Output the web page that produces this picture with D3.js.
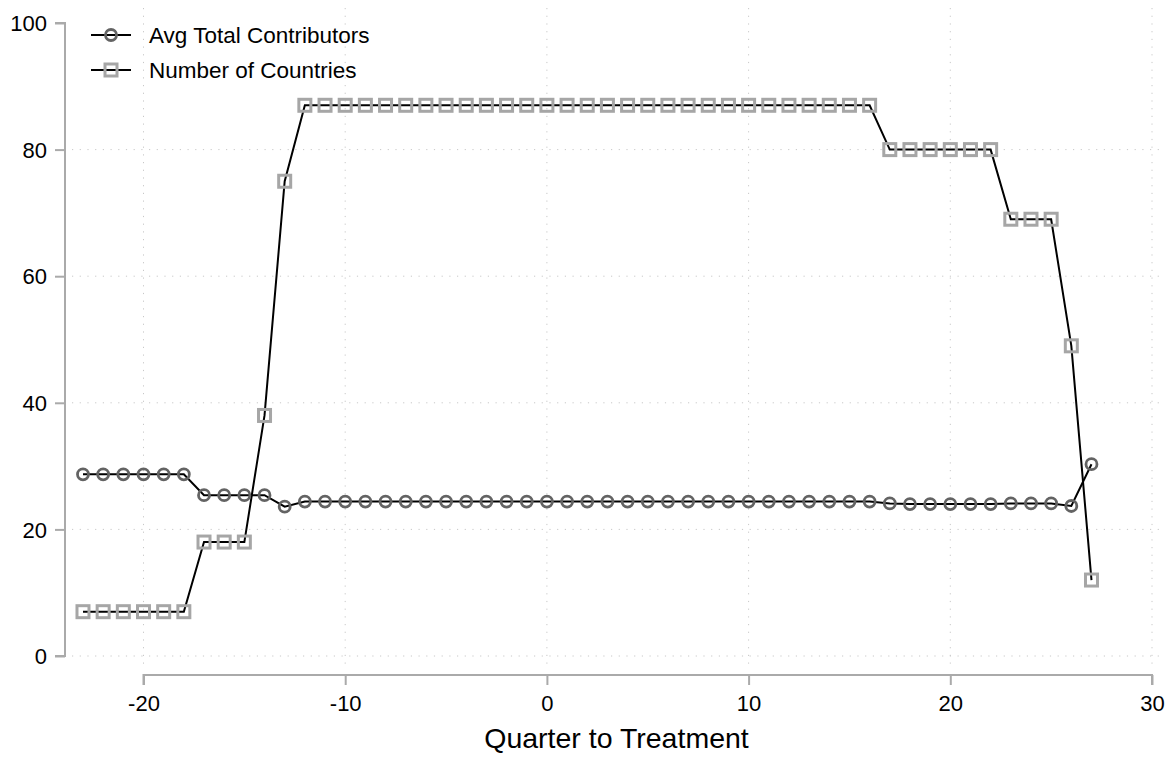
<!DOCTYPE html>
<html lang="en">
<head>
    <meta charset="UTF-8">
    <title>Quarter to Treatment</title>
    <script src="https://cdn.jsdelivr.net/npm/d3@7"></script>
    <style>
        body { margin: 0; background: #fff; }
        svg { display: block; font-family: "Liberation Sans", Arial, Helvetica, sans-serif; }
    </style>
</head>
<body>
    <svg width="1176" height="759"></svg>
    <script>
        // Quarters relative to treatment
        const quarters = d3.range(-23, 28);

        const avgContributors = [
            28.7, 28.7, 28.7, 28.7, 28.7, 28.7,              // -23..-18
            25.4, 25.4, 25.4, 25.4,                           // -17..-14
            23.6,                                             // -13
            24.4, 24.4, 24.4, 24.4, 24.4, 24.4, 24.4, 24.4, 24.4, 24.4,
            24.4, 24.4, 24.4, 24.4, 24.4, 24.4, 24.4, 24.4, 24.4, 24.4,
            24.4, 24.4, 24.4, 24.4, 24.4, 24.4, 24.4, 24.4, 24.4, // -12..16
            24.1, 24.0, 24.0, 24.0, 24.0, 24.0, 24.1, 24.1, 24.1, // 17..25
            23.7, 30.3                                        // 26, 27
        ];

        const numCountries = [
            7, 7, 7, 7, 7, 7,
            18, 18, 18,
            38, 75,
            87, 87, 87, 87, 87, 87, 87, 87, 87, 87,
            87, 87, 87, 87, 87, 87, 87, 87, 87, 87,
            87, 87, 87, 87, 87, 87, 87, 87, 87,
            80, 80, 80, 80, 80, 80,
            69, 69, 69,
            49, 12
        ];

        const xTicks = [-20, -10, 0, 10, 20, 30];
        const yTicks = [0, 20, 40, 60, 80, 100];
        const legendLabels = ['Avg Total Contributors', 'Number of Countries'];

        const svg = d3.select('svg');

        const x = d3.scaleLinear().domain([-20, 30]).range([143.5, 1152]);
        const y = d3.scaleLinear().domain([0, 100]).range([656, 23]);

        const axisColor = '#aaaaaa';
        const xAxisY = 675;
        const yAxisX = 65;
        const font = '"Liberation Sans", Arial, Helvetica, sans-serif';

        // gridlines
        const grid = svg.append('g');
        grid.selectAll('.hg')
            .data(yTicks.filter(d => d < 100))
            .enter().append('line')
            .attr('x1', 72).attr('x2', 1165)
            .attr('y1', d => y(d)).attr('y2', d => y(d))
            .attr('stroke', '#c8c8c8').attr('stroke-width', 1)
            .attr('stroke-dasharray', '1.2,6.5');
        grid.selectAll('.vg')
            .data(xTicks)
            .enter().append('line')
            .attr('x1', d => x(d)).attr('x2', d => x(d))
            .attr('y1', 8).attr('y2', 670)
            .attr('stroke', '#c8c8c8').attr('stroke-width', 1)
            .attr('stroke-dasharray', '1.2,6.5');

        // y axis
        const yAxis = d3.axisLeft(y).tickValues(yTicks).tickFormat(d => String(d))
            .tickSize(10).tickPadding(8);
        const gy = svg.append('g').attr('transform', `translate(${yAxisX},0)`).call(yAxis);
        gy.attr('font-size', null).attr('font-family', null);
        gy.select('.domain').attr('d', `M-10,${y(100)}H0V${y(0)}H-10`).attr('stroke', axisColor).attr('stroke-width', 2);
        gy.selectAll('.tick line').attr('stroke', axisColor).attr('stroke-width', 2);
        gy.selectAll('.tick text').attr('font-size', 22).attr('fill', '#000')
            .attr('font-family', font).attr('dy', '0.35em');

        // x axis
        const xAxis = d3.axisBottom(x).tickValues(xTicks).tickFormat(d => String(d))
            .tickSize(10).tickPadding(10);
        const gx = svg.append('g').attr('transform', `translate(0,${xAxisY})`).call(xAxis);
        gx.attr('font-size', null).attr('font-family', null);
        gx.select('.domain').attr('d', `M${x(-20)},10V0H${x(30)}V10`).attr('stroke', axisColor).attr('stroke-width', 2);
        gx.selectAll('.tick line').attr('stroke', axisColor).attr('stroke-width', 2);
        gx.selectAll('.tick text').attr('font-size', 22).attr('fill', '#000')
            .attr('font-family', font);

        svg.append('text')
            .attr('x', x(3.45)).attr('y', 748)
            .attr('text-anchor', 'middle')
            .attr('font-size', 28.5)
            .text('Quarter to Treatment');

        const line = d3.line().x(d => x(d[0])).y(d => y(d[1]));
        const contribData = quarters.map((q, i) => [q, avgContributors[i]]);
        const countryData = quarters.map((q, i) => [q, numCountries[i]]);

        // lines
        svg.append('path').datum(countryData).attr('d', line)
            .attr('fill', 'none').attr('stroke', '#000').attr('stroke-width', 2);
        svg.append('path').datum(contribData).attr('d', line)
            .attr('fill', 'none').attr('stroke', '#000').attr('stroke-width', 2);

        // markers
        const sq = 12;
        svg.selectAll('.sq')
            .data(countryData)
            .enter().append('rect')
            .attr('x', d => x(d[0]) - sq / 2)
            .attr('y', d => y(d[1]) - sq / 2)
            .attr('width', sq).attr('height', sq)
            .attr('fill', 'none').attr('stroke', '#a6a6a6').attr('stroke-width', 3);

        svg.selectAll('.ci')
            .data(contribData)
            .enter().append('circle')
            .attr('cx', d => x(d[0]))
            .attr('cy', d => y(d[1]))
            .attr('r', 5.5)
            .attr('fill', 'none').attr('stroke', '#636363').attr('stroke-width', 2.8);

        // legend
        const legend = svg.append('g');
        legendLabels.forEach((label, i) => {
            const ly = 35 + i * 35;
            legend.append('line')
                .attr('x1', 91).attr('x2', 131).attr('y1', ly).attr('y2', ly)
                .attr('stroke', '#000').attr('stroke-width', 2);
            if (i === 0) {
                legend.append('circle').attr('cx', 111).attr('cy', ly).attr('r', 5.5)
                    .attr('fill', 'none').attr('stroke', '#636363').attr('stroke-width', 2.8);
            } else {
                legend.append('rect').attr('x', 111 - sq / 2).attr('y', ly - sq / 2)
                    .attr('width', sq).attr('height', sq)
                    .attr('fill', 'none').attr('stroke', '#a6a6a6').attr('stroke-width', 3);
            }
            legend.append('text')
                .attr('x', 149).attr('y', ly + 8)
                .attr('font-size', 22.5)
                .text(label);
        });
    </script>
</body>
</html>
